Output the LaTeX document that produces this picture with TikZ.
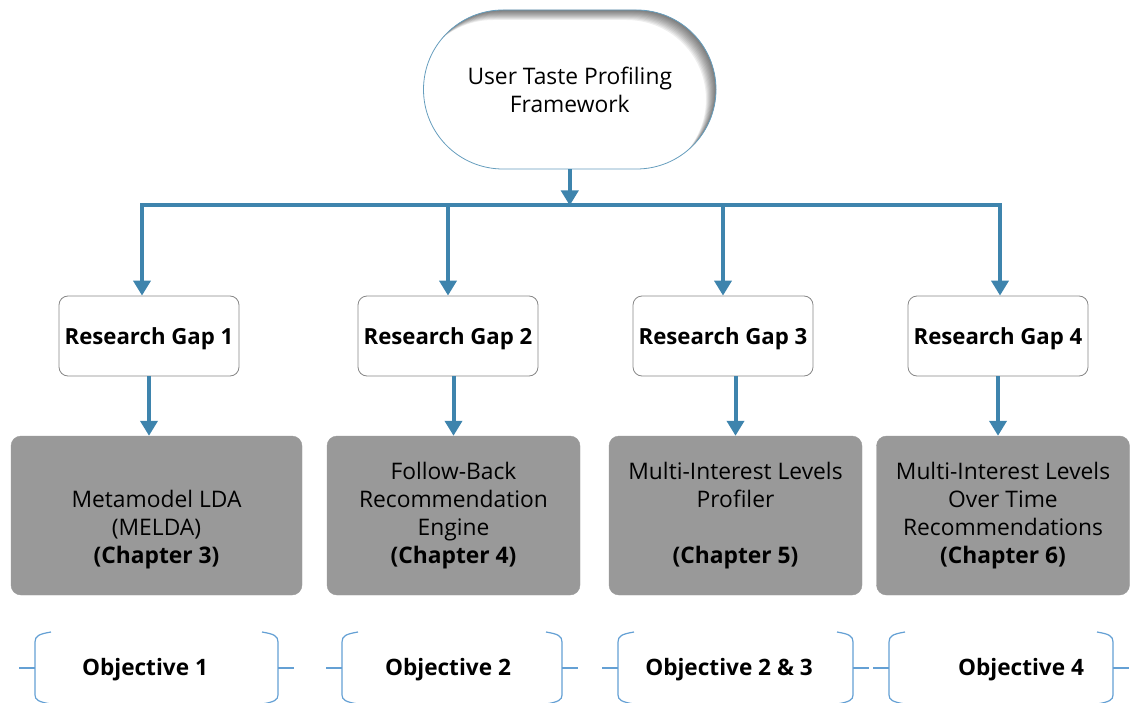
\documentclass[tikz,border=0pt]{standalone}
\usepackage{fontspec}
\setmainfont{Open Sans}
\usetikzlibrary{arrows.meta,calc}

\definecolor{flow}{RGB}{62,132,173}
\definecolor{brace}{RGB}{100,160,212}
\definecolor{boxgray}{RGB}{153,153,153}
\definecolor{edgegray}{RGB}{135,135,135}

\tikzset{
  txt/.style={font=\fontsize{22.8}{28}\selectfont, align=center, text=black},
  gapbox/.style={draw=edgegray, line width=0.8pt, fill=white, rounded corners=9pt,
    minimum width=180pt, minimum height=80pt, inner sep=0pt,
    font=\fontsize{22.2}{28}\selectfont\bfseries},
  chapbox/.style={draw=boxgray, fill=boxgray, rounded corners=10pt,
    minimum width=253pt, minimum height=159pt, inner sep=0pt, txt},
  link/.style={draw=flow, line width=4pt},
  tip/.style={-{Triangle[width=17pt,length=15pt]}},
  bracketline/.style={draw=brace, line width=1.2pt},
  objtext/.style={font=\fontsize{22.6}{28}\selectfont\bfseries},
}

% a pair of curly brackets with short side ticks around an objective
\newcommand{\objbrackets}[2]{%
  \draw[bracketline] (#1+16,632) .. controls (#1+4,634) and (#1,636) .. (#1,642)
        -- (#1,695) .. controls (#1,700) and (#1+4,702) .. (#1+16,704);
  \draw[bracketline] (#1-16,668) -- (#1,668);
  \draw[bracketline] (#2-16,632) .. controls (#2-4,634) and (#2,636) .. (#2,642)
        -- (#2,695) .. controls (#2,700) and (#2-4,702) .. (#2-16,704);
  \draw[bracketline] (#2,668) -- (#2+16,668);
}
% gap label, vertically centred on its capitals
\newcommand{\gaplabel}[1]{\smash{\raisebox{-8.5pt}{#1}}}

\begin{document}
\begin{tikzpicture}[x=1pt,y=-1pt]
\useasboundingbox (0,0) rectangle (1131,703);

% framework stadium with a soft inner shadow on its upper right
\begin{scope}
  \clip[rounded corners=79.5pt] (423.5,10) rectangle (716,169);
  \foreach \s in {1,...,10}{
    \fill[black, opacity=0.065, even odd rule, rounded corners=79.5pt]
      (380,-40) rectangle (760,220)
      (423.5-\s*1.0,10+\s*1.0) rectangle (716-\s*1.0,169+\s*1.0);
  }
\end{scope}
\node[draw=flow!80, line width=0.8pt, rounded corners=79.5pt,
      minimum width=292.5pt, minimum height=159pt, inner sep=0pt, txt]
  (top) at (569.75,89.5) {User Taste Profiling\\Framework};

% research gaps
\node[gapbox] (g1) at (149,336) {\gaplabel{Research Gap 1}};
\node[gapbox] (g2) at (448,336) {\gaplabel{Research Gap 2}};
\node[gapbox] (g3) at (723,336) {\gaplabel{Research Gap 3}};
\node[gapbox] (g4) at (998,336) {\gaplabel{Research Gap 4}};

% contributions
\node[chapbox, minimum width=291pt] (c1) at (156.5,515.5) {\vphantom{X}\\[2pt]Metamodel LDA\\(MELDA)\\\textbf{(Chapter 3)}};
\node[chapbox] (c2) at (453.5,515.5) {Follow-Back\\Recommendation\\Engine\\\textbf{(Chapter 4)}};
\node[chapbox] (c3) at (735.5,515.5) {Multi-Interest Levels\\Profiler\\\vphantom{X}\\\textbf{(Chapter 5)}};
\node[chapbox] (c4) at (1003,515.5) {Multi-Interest Levels\\Over Time\\Recommendations\\\textbf{(Chapter 6)}};

% distribution bus
\coordinate (b1) at (142,205.5);
\coordinate (b2) at (448,205.5);
\coordinate (b3) at (723,205.5);
\coordinate (b4) at (1000,205.5);

\draw[link, tip] (top.south) -- (top.south |- b1);
\draw[link, {Triangle[width=17pt,length=15pt]}-{Triangle[width=17pt,length=15pt]}]
  (b1 |- g1.north) -- (b1) -- (b4) -- (b4 |- g4.north);
\draw[link, tip] (b2) -- (g2.north);
\draw[link, tip] (b3) -- (g3.north);

% gaps to contributions
\draw[link, tip] (g1.south) -- (g1.south |- c1.north);
\draw[link, tip] (c2.north |- g2.south) -- (c2.north);
\draw[link, tip] (c3.north |- g3.south) -- (c3.north);
\draw[link, tip] (g4.south) -- (g4.south |- c4.north);

% objectives
\objbrackets{35}{278}
\objbrackets{342}{562}
\objbrackets{618}{853}
\objbrackets{889}{1113}
\node[objtext] (o1) at (145,670) {Objective 1};
\node[objtext] (o2) at (448,670) {Objective 2};
\node[objtext] (o3) at (729,670) {Objective 2 \& 3};
\node[objtext] (o4) at (1021,670) {Objective 4};
\end{tikzpicture}
\end{document}
